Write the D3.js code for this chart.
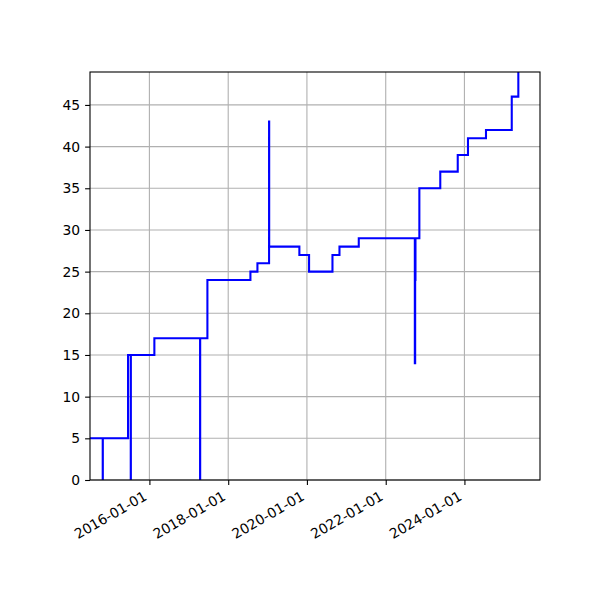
<!DOCTYPE html>
<html lang="en">
<head>
  <meta charset="UTF-8" />
  <title>Step chart</title>
  <script src="https://cdn.jsdelivr.net/npm/d3@7"></script>
  <style>
    body { margin: 0; background: #fff; }
    svg { display: block; }
    .tick text { font-family: "DejaVu Sans", sans-serif; font-size: 13.9px; fill: #000; }
  </style>
</head>
<body>
<svg width="600" height="600"></svg>
<script>
  // data (step-post line)
  const dates = [
    "2014-06-29", "2014-10-25", "2014-10-26", "2015-06-17", "2015-07-12", "2015-07-13",
    "2016-02-16", "2017-04-15", "2017-04-16", "2017-06-22", "2018-07-26", "2018-09-29",
    "2019-01-15", "2019-01-16", "2019-10-23", "2020-01-21", "2020-08-25", "2020-10-29",
    "2021-04-26", "2022-09-28", "2022-10-01", "2022-10-04", "2022-11-09", "2023-05-22",
    "2023-10-31", "2024-02-03", "2024-07-19", "2025-03-15", "2025-05-15"
  ];
  const values = [
    5, 0, 5, 15, 0, 15,
    17, 0, 17, 24, 25, 26,
    43, 28, 27, 25, 27, 28,
    29, 14, 24, 29, 35, 37,
    39, 41, 42, 46, 52
  ];
  const xTicks = ["2016-01-01", "2018-01-01", "2020-01-01", "2022-01-01", "2024-01-01"];
  const yTicks = [0, 5, 10, 15, 20, 25, 30, 35, 40, 45];
  const xDomain = ["2014-06-29", "2025-12-02"];
  const yDomain = [0, 48.95];

  const parse = d3.utcParse("%Y-%m-%d");
  const fmt = d3.utcFormat("%Y-%m-%d");
  const points = dates.map((d, i) => ({ date: parse(d), value: values[i] }));

  const svg = d3.select("svg");
  const plotL = 90, plotR = 540, plotT = 72, plotB = 480;

  const x = d3.scaleUtc().domain(xDomain.map(parse)).range([plotL, plotR]);
  const y = d3.scaleLinear().domain(yDomain).range([plotB, plotT]);

  svg.append("defs").append("clipPath").attr("id", "plotclip")
    .append("rect")
    .attr("x", plotL).attr("y", plotT)
    .attr("width", plotR - plotL).attr("height", plotB - plotT);

  // grid
  const grid = svg.append("g").attr("stroke", "#b0b0b0").attr("stroke-width", 1.1);
  grid.selectAll(".vg").data(xTicks.map(parse)).enter().append("line")
    .attr("x1", d => x(d)).attr("x2", d => x(d))
    .attr("y1", plotT).attr("y2", plotB);
  grid.selectAll(".hg").data(yTicks).enter().append("line")
    .attr("x1", plotL).attr("x2", plotR)
    .attr("y1", d => y(d)).attr("y2", d => y(d));

  // step line
  const line = d3.line()
    .x(d => x(d.date))
    .y(d => y(d.value))
    .curve(d3.curveStepAfter);

  svg.append("path")
    .datum(points)
    .attr("clip-path", "url(#plotclip)")
    .attr("fill", "none")
    .attr("stroke", "#0000ff")
    .attr("stroke-width", 2.08)
    .attr("stroke-linejoin", "miter")
    .attr("d", line);

  // axes
  const xAxis = d3.axisBottom(x)
    .tickValues(xTicks.map(parse))
    .tickFormat(fmt)
    .tickSize(4.9)
    .tickPadding(4.9);

  const gx = svg.append("g")
    .attr("transform", `translate(0,${plotB})`)
    .call(xAxis);
  gx.select(".domain").remove();
  gx.selectAll(".tick line").attr("stroke", "#000").attr("stroke-width", 1.1);
  gx.selectAll(".tick text")
    .attr("text-anchor", "end")
    .attr("y", 0).attr("dy", 0)
    .attr("transform", "translate(-2,19) rotate(-30)");

  const yAxis = d3.axisLeft(y)
    .tickValues(yTicks)
    .tickSize(4.9)
    .tickPadding(4.9);

  const gy = svg.append("g")
    .attr("transform", `translate(${plotL},0)`)
    .call(yAxis);
  gy.select(".domain").remove();
  gy.selectAll(".tick line").attr("stroke", "#000").attr("stroke-width", 1.1);

  // frame
  svg.append("rect")
    .attr("x", plotL).attr("y", plotT)
    .attr("width", plotR - plotL).attr("height", plotB - plotT)
    .attr("fill", "none")
    .attr("stroke", "#000")
    .attr("stroke-width", 1.1);
</script>
</body>
</html>
